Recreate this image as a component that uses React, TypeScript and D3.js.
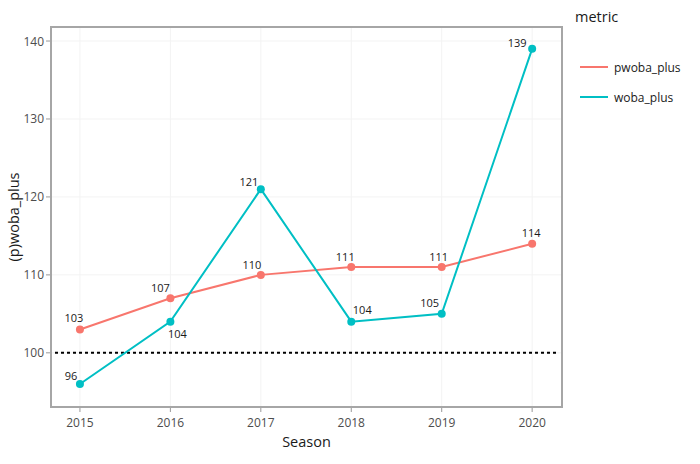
import React from "react";
import * as d3 from "d3";

const seasons = [2015, 2016, 2017, 2018, 2019, 2020];
const pwobaPlus = [103, 107, 110, 111, 111, 114];
const wobaPlus = [96, 104, 121, 104, 105, 139];
const yTicks = [100, 110, 120, 130, 140];
const seriesNames = ["pwoba_plus", "woba_plus"];
const seriesColors = ["#F8766D", "#00BFC4"];
const referenceValue = 100;

// label offsets (px) relative to each point, for visual placement
const pwobaLabelOffsets: [number, number][] = [[-6, -12], [-10, -11], [-9, -10], [-6, -11], [-3, -11], [-1, -11]];
const wobaLabelOffsets: [number, number][] = [[-9, -9], [7, 12], [-12, -8], [11, -12], [-12, -11], [-15, -6]];

const W = 700, H = 464;
const panel = { left: 51, right: 562, top: 27, bottom: 407 };
const FONT = "'Open Sans', 'Noto Sans', sans-serif";

export default function App() {
  const x = d3.scaleLinear().domain([2014.68, 2020.33]).range([panel.left, panel.right]);
  const y = d3.scaleLinear().domain([93.05, 141.8]).range([panel.bottom, panel.top]);
  const line = d3.line<[number, number]>().x(d => x(d[0])).y(d => y(d[1]));
  const series = [
    { name: seriesNames[0], values: pwobaPlus, color: seriesColors[0], offs: pwobaLabelOffsets },
    { name: seriesNames[1], values: wobaPlus, color: seriesColors[1], offs: wobaLabelOffsets },
  ];
  return (
    <svg width={W} height={H} style={{ position: "absolute", left: 0, top: 0, fontFamily: FONT }}>
      <rect width={W} height={H} fill="#fff" />
      {/* grid */}
      {seasons.map(s => (
        <line key={"gx" + s} x1={x(s)} x2={x(s)} y1={panel.top} y2={panel.bottom} stroke="#f3f3f3" strokeWidth={1} />
      ))}
      {yTicks.map(t => (
        <line key={"gy" + t} x1={panel.left} x2={panel.right} y1={y(t)} y2={y(t)} stroke="#f3f3f3" strokeWidth={1} />
      ))}
      {/* reference line */}
      <line x1={panel.left + 4} x2={panel.right - 4} y1={y(referenceValue)} y2={y(referenceValue)} stroke="#000" strokeWidth={2} strokeDasharray="3,3" />
      {series.map(s => (
        <g key={s.name}>
          <path d={line(seasons.map((yr, i) => [yr, s.values[i]]) as [number, number][]) || ""} fill="none" stroke={s.color} strokeWidth={2} />
          {seasons.map((yr, i) => (
            <circle key={yr} cx={x(yr)} cy={y(s.values[i])} r={4} fill={s.color} />
          ))}
          {seasons.map((yr, i) => (
            <text key={"t" + yr} x={x(yr) + s.offs[i][0]} y={y(s.values[i]) + s.offs[i][1]} textAnchor="middle" dominantBaseline="central" fontSize={11} fill="#1a1a1a">
              {s.values[i]}
            </text>
          ))}
        </g>
      ))}
      {/* panel border */}
      <rect x={panel.left} y={panel.top} width={panel.right - panel.left} height={panel.bottom - panel.top} fill="none" stroke="#a6a6a6" strokeWidth={2} />
      {/* y axis */}
      {yTicks.map(t => (
        <g key={"yt" + t}>
          <line x1={panel.left - 5} x2={panel.left - 1} y1={y(t)} y2={y(t)} stroke="#999" strokeWidth={1} />
          <text x={panel.left - 7} y={y(t)} textAnchor="end" dominantBaseline="central" fontSize={12} fill="#4d4d4d">{t}</text>
        </g>
      ))}
      {/* x axis */}
      {seasons.map(s => (
        <g key={"xt" + s}>
          <line x1={x(s)} x2={x(s)} y1={panel.bottom + 1} y2={panel.bottom + 5} stroke="#999" strokeWidth={1} />
          <text x={x(s)} y={panel.bottom + 15} textAnchor="middle" dominantBaseline="central" fontSize={12} fill="#4d4d4d">{s}</text>
        </g>
      ))}
      <text x={(panel.left + panel.right) / 2} y={441} textAnchor="middle" dominantBaseline="central" fontSize={14.5} fill="#1a1a1a">Season</text>
      <text transform={`translate(13,${(panel.top + panel.bottom) / 2}) rotate(-90)`} textAnchor="middle" dominantBaseline="central" fontSize={14.5} fill="#1a1a1a">(p)woba_plus</text>
      {/* legend */}
      <text x={575} y={16} dominantBaseline="central" fontSize={14.5} fill="#1a1a1a">metric</text>
      {series.map((s, i) => (
        <g key={"lg" + s.name}>
          <line x1={580} x2={608} y1={67 + i * 30} y2={67 + i * 30} stroke={s.color} strokeWidth={2} />
          <text x={614} y={67 + i * 30} dominantBaseline="central" fontSize={12} fill="#1a1a1a">{s.name}</text>
        </g>
      ))}
    </svg>
  );
}
